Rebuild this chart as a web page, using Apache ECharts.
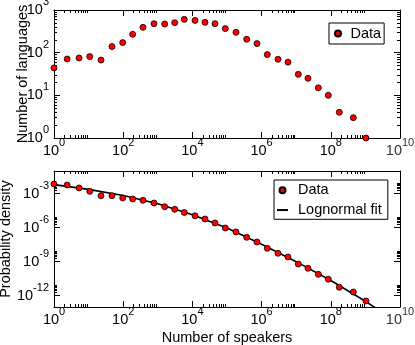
<!DOCTYPE html>
<html>
<head>
<meta charset="utf-8">
<script src="https://cdn.jsdelivr.net/npm/echarts@6/dist/echarts.min.js"></script>
<style>
  html, body { margin: 0; padding: 0; background: #fff; }
  #chart { width: 415px; height: 345px; }
</style>
</head>
<body>
<div id="chart"></div>
<script>
'use strict';

/* Binned number of speakers (bin positions, shared by both panels) */
const speakers = [1, 2.4, 5.3, 10.8, 22.8, 47.4, 96.8, 188, 373, 776, 1580, 3080, 5830, 11900, 23100,
  45000, 89300, 182000, 371000, 736000, 1.46e6, 2.98e6, 5.79e6, 1.15e7, 2.19e7, 4.36e7, 8.47e7, 1.76e8, 4.47e8, 1.04e9];
/* Top panel: number of languages per bin */
const languages = [44, 71, 75, 81, 67, 139, 172, 269, 392, 478, 469, 505, 603, 571, 513,
  478, 366, 300, 206, 163, 90, 70, 60, 31, 25, 15, 10, 4, 3, 1];
/* Bottom panel: probability density per bin */
const density = [7.1e-3, 5.8e-3, 3.2e-3, 1.6e-3, 6.6e-4, 6.6e-4, 4.2e-4, 3.4e-4, 2.6e-4, 1.5e-4, 7.1e-5, 4.2e-5, 2.2e-5, 1.1e-5, 5.8e-6,
  2.6e-6, 9.3e-7, 4.2e-7, 1.4e-7, 5.4e-8, 1.5e-8, 5.5e-9, 2.6e-9, 6.2e-10, 2.6e-10, 7.6e-11, 2.8e-11, 5.5e-12, 2.1e-12, 3.4e-13];
/* Lognormal fit curve */
const fitSpeakers = [1, 10, 1e2, 1e3, 1e4, 1e5, 1e6, 1e7, 1e8, 1e9, 2e9];
const fitDensity = [6.3e-3, 2.4e-3, 6.8e-4, 1.3e-4, 1.4e-5, 9.3e-7, 3.5e-8, 1.0e-9, 2.2e-11, 3.2e-13, 7.9e-14];

/* Tick values (last x label sits a hair inside the axis end) */
const xMajor = [1, 1e2, 1e4, 1e6, 1e8, 1e10];
const xLabels = [1, 1e2, 1e4, 1e6, 1e8, 9.999e9];
const yTopMajor = [1, 10, 100, 1000];
const yBotMajor = [1e-12, 1e-9, 1e-6, 1e-3];
const minorOf = (decades) => {
  const out = [];
  decades.forEach((d) => { for (let k = 2; k <= 9; k++) out.push(k * d); });
  return out;
};
const xMinor = minorOf([1, 1e2, 1e4, 1e6, 1e8]);
const yTopMinor = minorOf([1, 10, 100]);
const yBotMinor = minorOf(yBotMajor);

const FONT = '"Liberation Sans", Arial, Helvetica, sans-serif';
// the axis-end label gets its own styles; with the shared black ones its base "10" went missing
const rich = {
  b: { fontSize: 14.5, fontFamily: FONT, color: '#000' },
  s: { fontSize: 11, fontFamily: FONT, color: '#000', padding: [0, 0, 16, 0] },
  g: { fontSize: 14.5, fontFamily: FONT, color: '#333' },
  r: { fontSize: 11, fontFamily: FONT, color: '#333', padding: [0, 0, 16, 0] },
};
const powLabel = (v) => v > 5e9
  ? '{g|10}{r|10}'
  : '{b|10}{s|' + Math.round(Math.log10(v)) + '}';

// One log axis; only the "main" ones carry a line and labels.
const axis = (grid, position, range, ticks, len, extra) => Object.assign({
  type: 'log',
  logBase: 10,
  gridIndex: grid,
  position,
  min: range[0],
  max: range[1],
  axisLine: { show: false },
  axisTick: { show: true, inside: true, length: len, customValues: ticks, lineStyle: { color: '#000', width: 1 } },
  axisLabel: { show: false },
  splitLine: { show: false },
  minorTick: { show: false },
  minorSplitLine: { show: false },
}, extra || {});

const line = { show: true, lineStyle: { color: '#000', width: 1 } };
const nameStyle = { fontSize: 14.5, fontFamily: FONT, color: '#000' };
const labelBase = {
  show: true, formatter: powLabel, rich, hideOverlap: false,
  showMinLabel: true, showMaxLabel: true, overflow: 'none',
};
const xLabel = (margin) => Object.assign({ customValues: xLabels, margin }, labelBase);
const yLabel = (vals) => Object.assign({ customValues: vals, margin: 5 }, labelBase);

const XR = [1, 1e10];
const YT = [1, 1000];
const YB = [1e-13, 1e-1];

const xAxis = [
  axis(0, 'bottom', XR, xMajor, 6, { axisLine: line, axisLabel: xLabel(-1) }),
  axis(0, 'bottom', XR, xMinor, 3),
  axis(0, 'top', XR, xMajor, 6, { axisLine: line }),
  axis(0, 'top', XR, xMinor, 3),
  axis(1, 'bottom', XR, xMajor, 6, {
    axisLine: line, axisLabel: xLabel(-1),
    name: 'Number of speakers', nameLocation: 'middle', nameGap: 23, nameMoveOverlap: false, nameTextStyle: nameStyle,
  }),
  axis(1, 'bottom', XR, xMinor, 3),
  axis(1, 'top', XR, xMajor, 6, { axisLine: line }),
  axis(1, 'top', XR, xMinor, 3),
];

const yAxis = [
  axis(0, 'left', YT, yTopMajor, 6, {
    axisLine: line, axisLabel: yLabel(yTopMajor),
    name: 'Number of languages', nameLocation: 'middle', nameGap: 24, nameMoveOverlap: false, nameTextStyle: nameStyle,
  }),
  axis(0, 'left', YT, yTopMinor, 3),
  axis(0, 'right', YT, yTopMajor, 6, { axisLine: line }),
  axis(0, 'right', YT, yTopMinor, 3),
  axis(1, 'left', YB, yBotMajor, 6, {
    axisLine: line, axisLabel: yLabel(yBotMajor),
    name: 'Probability density', nameLocation: 'middle', nameGap: 41, nameMoveOverlap: false, nameTextStyle: nameStyle,
  }),
  axis(1, 'left', YB, yBotMinor, 3),
  axis(1, 'right', YB, yBotMajor, 6, { axisLine: line }),
  axis(1, 'right', YB, yBotMinor, 3),
];

const dot = { color: '#ff0000', borderColor: '#000', borderWidth: 0.8, opacity: 1 };
const legendBase = {
  backgroundColor: '#fff',
  borderColor: '#000',
  borderWidth: 1,
  borderRadius: 0,
  itemHeight: 6,
  selectedMode: false,
  textStyle: { fontSize: 14.5, fontFamily: FONT, color: '#000' },
};

const chart = echarts.init(document.getElementById('chart'), null, { renderer: 'canvas' });
chart.setOption({
  animation: false,
  grid: [
    { left: 54, top: 10, width: 346, height: 128, outerBoundsMode: 'none' },
    { left: 54, top: 171, width: 346, height: 136, outerBoundsMode: 'none' },
  ],
  xAxis,
  yAxis,
  legend: [
    Object.assign({}, legendBase, {
      data: ['Data'], left: 329, top: 23, padding: [3, 3, 3, 5], itemWidth: 15,
    }),
    Object.assign({}, legendBase, {
      data: ['Data', { name: 'Lognormal fit', itemStyle: { opacity: 0 } }],
      left: 274, top: 180, orient: 'vertical',
      padding: [2.75, 6, 1.75, 2], itemWidth: 11, itemGap: 4.8,
      textStyle: Object.assign({}, legendBase.textStyle, { padding: [0, 0, 0, 5] }),
    }),
  ],
  series: [
    {
      name: 'Data', type: 'scatter', xAxisIndex: 0, yAxisIndex: 0, clip: false,
      symbol: 'circle', symbolSize: 6, itemStyle: dot,
      data: speakers.map((s, i) => [s, languages[i]]),
    },
    {
      name: 'Lognormal fit', type: 'line', xAxisIndex: 4, yAxisIndex: 4, symbol: 'none',
      lineStyle: { color: '#000', width: 1.6 }, itemStyle: { color: '#000' },
      data: fitSpeakers.map((s, i) => [s, fitDensity[i]]),
    },
    {
      name: 'Data', type: 'scatter', xAxisIndex: 4, yAxisIndex: 4, clip: false,
      symbol: 'circle', symbolSize: 6, itemStyle: dot, z: 3,
      data: speakers.map((s, i) => [s, density[i]]),
    },
  ],
});
window.addEventListener('resize', () => chart.resize());
</script>
</body>
</html>
